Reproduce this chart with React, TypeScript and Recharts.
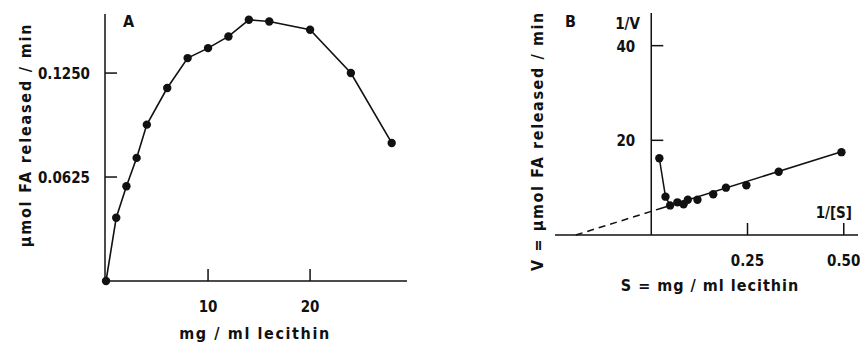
import { ComposedChart, Line, Scatter, XAxis, YAxis, ReferenceLine, ReferenceDot } from 'recharts';

// Panel A: rate vs substrate
const lecithinA = [0, 1, 2, 3, 4, 6, 8, 10, 12, 14, 16, 20, 24, 28];
const rateA = [0, 0.038, 0.057, 0.074, 0.094, 0.116, 0.134, 0.14, 0.147, 0.157, 0.156, 0.151, 0.125, 0.083];
const ticksAX = [10, 20];
const ticksAY = [0.0625, 0.125];

// Panel B: double reciprocal plot
const invS = [0.021, 0.037, 0.049, 0.068, 0.084, 0.095, 0.12, 0.161, 0.194, 0.247, 0.331, 0.494];
const invV = [16.2, 8.1, 6.25, 6.9, 6.5, 7.45, 7.45, 8.6, 10.0, 10.5, 13.35, 17.5];
const joinedCount = 3;
const fitX = [0.02, 0.494];
const fitY = [5.5, 17.6];
const extX = [-0.196, 0.02];
const extY = [0, 5.5];
const ticksBX = [0.25, 0.5];
const ticksBY = [20, 40];

const dataA = lecithinA.map((x, i) => ({ x, y: rateA[i] }));
const dataB = invS.map((x, i) => ({ x, y: invV[i] }));
const fitData = fitX.map((x, i) => ({ x, y: fitY[i] }));
const extData = extX.map((x, i) => ({ x, y: extY[i] }));

const FONT = "'DejaVu Sans Condensed', 'Liberation Sans Narrow', 'DejaVu Sans', sans-serif";
const INK = '#111';

const txt = { fontFamily: FONT, fontSize: 15, fontWeight: 'bold', fill: INK };
const title = { fontFamily: FONT, fontSize: 16, fontWeight: 'bold', fill: INK };

function BottomTick(props: any) {
  const { x, y, payload, digits } = props;
  return (
    <g>
      <line x1={x} y1={y} x2={x} y2={y - 12} stroke={INK} strokeWidth={1.5} />
      <text x={x} y={y + 31} textAnchor="middle" {...txt}>
        {Number(payload.value).toFixed(digits)}
      </text>
    </g>
  );
}

function LeftTick(props: any) {
  const { x, y, payload } = props;
  return (
    <g>
      <line x1={x} y1={y} x2={x + 12} y2={y} stroke={INK} strokeWidth={1.5} />
      <text x={x - 15} y={y + 6} textAnchor="end" {...txt}>
        {Number(payload.value).toFixed(4)}
      </text>
    </g>
  );
}

function RefTick(props: any) {
  const { cx, cy, value } = props;
  return (
    <g>
      <line x1={cx} y1={cy} x2={cx + 12} y2={cy} stroke={INK} strokeWidth={1.5} />
      <text x={cx - 16} y={cy + 6} textAnchor="end" {...txt}>
        {value}
      </text>
    </g>
  );
}

const dot = (p: any) => <circle cx={p.cx} cy={p.cy} r={4.2} fill={INK} />;

export default function App() {
  return (
    <div style={{ position: 'absolute', left: 0, top: 0, width: 860, height: 345, background: '#fff' }}>
      <div style={{ position: 'absolute', left: 0, top: 0 }}>
        <ComposedChart width={430} height={345} data={dataA} margin={{ top: 14, right: 23, bottom: 34, left: 75 }}>
          <XAxis
            type="number"
            dataKey="x"
            domain={[-0.1, 29.5]}
            ticks={ticksAX}
            interval={0}
            height={30}
            tickSize={0}
            tickMargin={0}
            axisLine={{ stroke: INK, strokeWidth: 1.5 }}
            tickLine={false}
            tick={(p: any) => <BottomTick {...p} digits={0} />}
          />
          <YAxis
            type="number"
            domain={[0, 0.1605]}
            ticks={ticksAY}
            interval={0}
            width={30}
            tickSize={0}
            tickMargin={0}
            axisLine={{ stroke: INK, strokeWidth: 1.5 }}
            tickLine={false}
            tick={(p: any) => <LeftTick {...p} />}
          />
          <Line
            dataKey="y"
            stroke={INK}
            strokeWidth={1.6}
            dot={dot}
            activeDot={false}
            isAnimationActive={false}
          />
        </ComposedChart>
      </div>
      <div style={{ position: 'absolute', left: 430, top: 0 }}>
        <ComposedChart width={430} height={345} margin={{ top: 13, right: 2, bottom: 80, left: 125 }}>
          <XAxis
            type="number"
            dataKey="x"
            domain={[-0.25, 0.537]}
            ticks={ticksBX}
            interval={0}
            height={30}
            tickSize={0}
            tickMargin={0}
            axisLine={{ stroke: INK, strokeWidth: 1.5 }}
            tickLine={false}
            tick={(p: any) => <BottomTick {...p} digits={2} />}
          />
          <YAxis type="number" dataKey="y" domain={[0, 46.9]} hide />
          <ReferenceLine x={0} stroke={INK} strokeWidth={1.5} />
          {ticksBY.map((v) => (
            <ReferenceDot key={v} x={0} y={v} shape={(p: any) => <RefTick {...p} value={v} />} />
          ))}
          <Line
            data={extData}
            dataKey="y"
            stroke={INK}
            strokeWidth={1.5}
            strokeDasharray="7 5"
            dot={false}
            activeDot={false}
            isAnimationActive={false}
          />
          <Line
            data={fitData}
            dataKey="y"
            stroke={INK}
            strokeWidth={1.5}
            dot={false}
            activeDot={false}
            isAnimationActive={false}
          />
          <Line
            data={dataB.slice(0, joinedCount)}
            dataKey="y"
            stroke={INK}
            strokeWidth={1.5}
            dot={false}
            activeDot={false}
            isAnimationActive={false}
          />
          <Scatter data={dataB} dataKey="y" shape={dot} isAnimationActive={false} />
        </ComposedChart>
      </div>
      <svg width={860} height={345} style={{ position: 'absolute', left: 0, top: 0, pointerEvents: 'none' }}>
        <text x={123} y={27} {...title}>A</text>
        <text x={565} y={27} {...title}>B</text>
        <text x={640} y={29} textAnchor="end" {...txt}>1/V</text>
        <text x={852} y={218} textAnchor="end" {...txt}>1/[S]</text>
        <text x={255} y={339} textAnchor="middle" {...title} letterSpacing={1.6}>mg / ml lecithin</text>
        <text x={710} y={291} textAnchor="middle" {...title} letterSpacing={1}>S = mg / ml lecithin</text>
        <text transform="translate(31,135) rotate(-90)" textAnchor="middle" {...title} letterSpacing={1.8}>
          μmol FA released / min
        </text>
        <text transform="translate(543,141) rotate(-90)" textAnchor="middle" {...title} letterSpacing={1.6}>
          V = μmol FA released / min
        </text>
      </svg>
    </div>
  );
}
